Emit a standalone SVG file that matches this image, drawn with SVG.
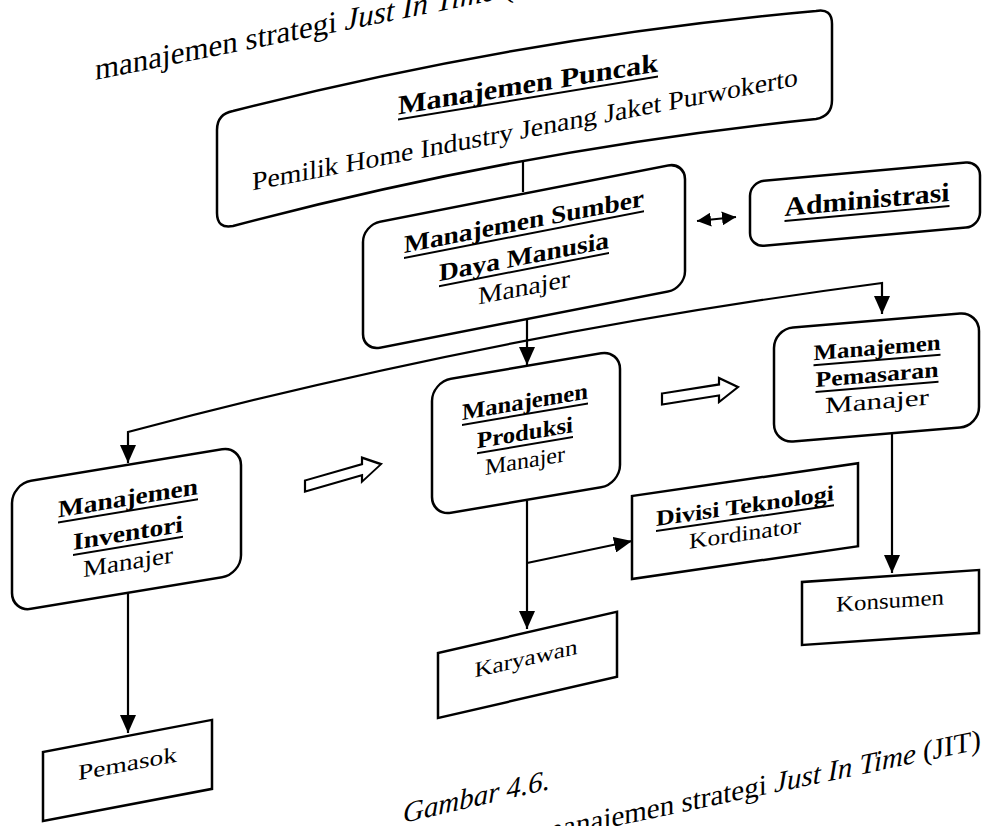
<svg xmlns="http://www.w3.org/2000/svg" width="984" height="826" viewBox="0 0 984 826">
  <defs>
    <style>
      .box { fill: #fff; stroke: #000; stroke-width: 2.5; }
      .conn { fill: none; stroke: #000; stroke-width: 2.2; }
      .ul { stroke: #000; stroke-width: 2; }
      .hd { font-family: "Liberation Serif", "Times New Roman", serif; font-weight: bold; fill: #000; }
      .tx { font-family: "Liberation Serif", "Times New Roman", serif; fill: #000; }
      .blk { fill: #fff; stroke: #000; stroke-width: 2.2; stroke-linejoin: miter; }
    </style>
    <marker id="ah" markerUnits="userSpaceOnUse" markerWidth="18" markerHeight="16" refX="18" refY="8" orient="auto-start-reverse">
      <path d="M0,0 L18,8 L0,16 Z" fill="#000"/>
    </marker>
    <marker id="ahs" markerUnits="userSpaceOnUse" markerWidth="14" markerHeight="14" refX="14" refY="7" orient="auto-start-reverse">
      <path d="M0,0 L14,7 L0,14 Z" fill="#000"/>
    </marker>
    <path id="blockArrow" d="M0,-5.5 H57 V-12 L76,0 L57,12 V5.5 H0 Z"/>
  </defs>

  <rect width="984" height="826" fill="#fff"/>

  <!-- heading line above the chart -->
  <text class="tx" font-size="31" transform="translate(95,80) skewY(-11.3)">manajemen strategi <tspan font-style="italic">Just In Time</tspan> (</text>

  <!-- connectors -->
  <g id="connectors">
    <line class="conn" x1="523" y1="160" x2="523" y2="192"/>
    <line class="conn" x1="527" y1="318" x2="527" y2="365" marker-end="url(#ah)"/>
    <path class="conn" d="M128,463 V432 C379,365 631,316 882,283 V314" marker-start="url(#ah)" marker-end="url(#ah)"/>
    <line class="conn" x1="697" y1="221" x2="736" y2="217" stroke-width="3.5" marker-start="url(#ahs)" marker-end="url(#ahs)"/>
    <line class="conn" x1="128" y1="593" x2="128" y2="733" marker-end="url(#ah)"/>
    <line class="conn" x1="527" y1="501" x2="527" y2="629" marker-end="url(#ah)"/>
    <line class="conn" x1="527" y1="563" x2="632" y2="541" marker-end="url(#ah)"/>
    <line class="conn" x1="892" y1="434" x2="892" y2="573" marker-end="url(#ah)"/>
    <use href="#blockArrow" class="blk" transform="translate(305,486) skewY(-16)"/>
    <use href="#blockArrow" class="blk" transform="translate(662,399) skewY(-9)"/>
  </g>

  <!-- top management -->
  <g id="node-puncak">
    <path class="box" d="M217,130 Q217,114 233,111 Q524,37 816,11 Q832,8 832,24 V100 Q832,116 816,119 Q524,149 233,226 Q217,229 217,213 Z"/>
    <g transform="translate(528,93) skewY(-9.4)">
      <text class="hd" font-size="27" x="0" y="0" text-anchor="middle" textLength="260" lengthAdjust="spacingAndGlyphs">Manajemen Puncak</text>
      <line class="ul" x1="-130" y1="5" x2="130" y2="5"/>
    </g>
    <text class="tx" font-size="26" text-anchor="middle" textLength="546" lengthAdjust="spacingAndGlyphs" transform="translate(525,138) skewY(-10.9)">Pemilik Home Industry Jenang Jaket Purwokerto</text>
  </g>

  <!-- human resources -->
  <g id="node-sdm" transform="translate(363,225) skewY(-11.04)">
    <rect class="box" x="0" y="0" width="322" height="126" rx="17"/>
    <text class="hd" font-size="25" x="161" y="36" text-anchor="middle" textLength="240" lengthAdjust="spacingAndGlyphs">Manajemen Sumber</text>
    <line class="ul" x1="41" y1="41" x2="281" y2="41"/>
    <text class="hd" font-size="25" x="161" y="71" text-anchor="middle" textLength="170" lengthAdjust="spacingAndGlyphs">Daya Manusia</text>
    <line class="ul" x1="76" y1="76" x2="246" y2="76"/>
    <text class="tx" font-size="25" x="161" y="102" text-anchor="middle" textLength="92" lengthAdjust="spacingAndGlyphs">Manajer</text>
  </g>

  <!-- administration -->
  <g id="node-admin" transform="translate(750,182) skewY(-5.14)">
    <rect class="box" x="0" y="0" width="230" height="65" rx="14"/>
    <text class="hd" font-size="27" x="117" y="37" text-anchor="middle" textLength="165" lengthAdjust="spacingAndGlyphs">Administrasi</text>
    <line class="ul" x1="34.5" y1="42" x2="199.5" y2="42"/>
  </g>

  <!-- production -->
  <g id="node-produksi" transform="translate(432,382) skewY(-9.65)">
    <rect class="box" x="0" y="0" width="188" height="134" rx="19"/>
    <text class="hd" font-size="23" x="93" y="43" text-anchor="middle" textLength="126" lengthAdjust="spacingAndGlyphs">Manajemen</text>
    <line class="ul" x1="30" y1="48" x2="156" y2="48"/>
    <text class="hd" font-size="23" x="93" y="74" text-anchor="middle" textLength="96" lengthAdjust="spacingAndGlyphs">Produksi</text>
    <line class="ul" x1="45" y1="79" x2="141" y2="79"/>
    <text class="tx" font-size="23" x="93" y="102" text-anchor="middle" textLength="80" lengthAdjust="spacingAndGlyphs">Manajer</text>
  </g>

  <!-- inventory -->
  <g id="node-inventori" transform="translate(12,484) skewY(-9.37)">
    <rect class="box" x="0" y="0" width="229" height="128" rx="19"/>
    <text class="hd" font-size="24" x="116" y="41" text-anchor="middle" textLength="140" lengthAdjust="spacingAndGlyphs">Manajemen</text>
    <line class="ul" x1="46" y1="46" x2="186" y2="46"/>
    <text class="hd" font-size="24" x="116" y="76" text-anchor="middle" textLength="110" lengthAdjust="spacingAndGlyphs">Inventori</text>
    <line class="ul" x1="61" y1="81" x2="171" y2="81"/>
    <text class="tx" font-size="24" x="116" y="105" text-anchor="middle" textLength="90" lengthAdjust="spacingAndGlyphs">Manajer</text>
  </g>

  <!-- marketing -->
  <g id="node-pemasaran" transform="translate(774,329) skewY(-4.74)">
    <rect class="box" x="0" y="0" width="205" height="114" rx="19"/>
    <text class="hd" font-size="22" x="103" y="34.5" text-anchor="middle" textLength="127" lengthAdjust="spacingAndGlyphs">Manajemen</text>
    <line class="ul" x1="39.5" y1="39.5" x2="166.5" y2="39.5"/>
    <text class="hd" font-size="22" x="103" y="61.5" text-anchor="middle" textLength="123" lengthAdjust="spacingAndGlyphs">Pemasaran</text>
    <line class="ul" x1="41.5" y1="66.5" x2="164.5" y2="66.5"/>
    <text class="tx" font-size="23" x="103" y="88.5" text-anchor="middle" textLength="104" lengthAdjust="spacingAndGlyphs">Manajer</text>
  </g>

  <!-- technology division -->
  <g id="node-divisi" transform="translate(632,496) skewY(-8.25)">
    <rect class="box" x="0" y="0" width="226" height="83"/>
    <text class="hd" font-size="22" x="113" y="33.5" text-anchor="middle" textLength="178" lengthAdjust="spacingAndGlyphs">Divisi Teknologi</text>
    <line class="ul" x1="24" y1="38.5" x2="202" y2="38.5"/>
    <text class="tx" font-size="22" x="113" y="61" text-anchor="middle" textLength="112" lengthAdjust="spacingAndGlyphs">Kordinator</text>
  </g>

  <!-- consumers -->
  <g id="node-konsumen" transform="translate(802,582) skewY(-3.89)">
    <rect class="box" x="0" y="0" width="177" height="63"/>
    <text class="tx" font-size="22" x="88" y="32" text-anchor="middle" textLength="108" lengthAdjust="spacingAndGlyphs">Konsumen</text>
  </g>

  <!-- employees -->
  <g id="node-karyawan" transform="translate(438,653) skewY(-13)">
    <rect class="box" x="0" y="0" width="179" height="65"/>
    <text class="tx" font-size="22" x="88" y="33" text-anchor="middle" textLength="103" lengthAdjust="spacingAndGlyphs">Karyawan</text>
  </g>

  <!-- suppliers -->
  <g id="node-pemasok" transform="translate(43,752) skewY(-10.76)">
    <rect class="box" x="0" y="0" width="169" height="69"/>
    <text class="tx" font-size="22" x="84.5" y="35" text-anchor="middle" textLength="99" lengthAdjust="spacingAndGlyphs">Pemasok</text>
  </g>

  <!-- figure caption -->
  <text class="tx" font-size="29" font-style="italic" textLength="147" lengthAdjust="spacingAndGlyphs" transform="translate(403,823) skewY(-13)">Gambar 4.6.</text>
  <text class="tx" font-size="29" text-anchor="end" transform="translate(981,749) skewY(-11.9)">manajemen strategi <tspan font-style="italic">Just In Time</tspan> (JIT)</text>
</svg>
